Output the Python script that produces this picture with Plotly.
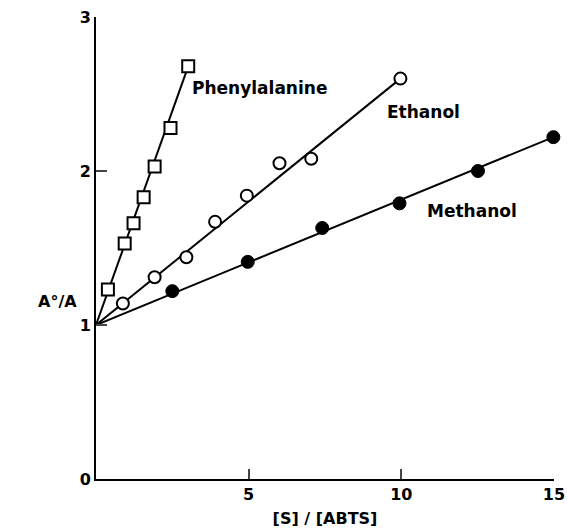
import plotly.graph_objects as go

# Data
phe_x = [0.39, 0.94, 1.23, 1.56, 1.92, 2.44, 3.02]
phe_y = [1.23, 1.53, 1.66, 1.83, 2.03, 2.28, 2.68]
eth_x = [0.88, 1.92, 2.96, 3.90, 4.94, 6.01, 7.05, 9.97]
eth_y = [1.14, 1.31, 1.44, 1.67, 1.84, 2.05, 2.08, 2.60]
met_x = [2.50, 4.97, 7.41, 9.94, 12.51, 14.98]
met_y = [1.22, 1.41, 1.63, 1.79, 2.00, 2.22]

# Fitted straight lines (endpoints)
phe_fit_x = [0, 3.02]
phe_fit_y = [1.0, 2.68]
eth_fit_x = [0, 9.97]
eth_fit_y = [1.0, 2.60]
met_fit_x = [0, 14.98]
met_fit_y = [1.0, 2.22]

x_ticks = [5, 10, 15]
y_ticks = [0, 1, 2, 3]

FONT = "DejaVu Sans"
fig = go.Figure()

for fx, fy in [(phe_fit_x, phe_fit_y), (eth_fit_x, eth_fit_y), (met_fit_x, met_fit_y)]:
    fig.add_trace(go.Scatter(x=fx, y=fy, mode="lines",
                             line=dict(color="black", width=2),
                             showlegend=False, cliponaxis=False, hoverinfo="skip"))

fig.add_trace(go.Scatter(x=phe_x, y=phe_y, mode="markers", name="Phenylalanine",
                         marker=dict(symbol="square", size=12, color="white",
                                     line=dict(color="black", width=2)),
                         showlegend=False, cliponaxis=False))
fig.add_trace(go.Scatter(x=eth_x, y=eth_y, mode="markers", name="Ethanol",
                         marker=dict(symbol="circle", size=12, color="white",
                                     line=dict(color="black", width=2)),
                         showlegend=False, cliponaxis=False))
fig.add_trace(go.Scatter(x=met_x, y=met_y, mode="markers", name="Methanol",
                         marker=dict(symbol="circle", size=13, color="black",
                                     line=dict(color="black", width=1)),
                         showlegend=False, cliponaxis=False))

lab_font = dict(family=FONT, size=17, color="black", weight="bold")
fig.add_annotation(x=3.09, y=2.54, text="Phenylalanine", showarrow=False,
                   xanchor="left", font=lab_font)
fig.add_annotation(x=9.45, y=2.38, text="Ethanol", showarrow=False,
                   xanchor="left", font=lab_font)
fig.add_annotation(x=10.78, y=1.74, text="Methanol", showarrow=False,
                   xanchor="left", font=lab_font)

fig.add_annotation(xref="paper", yref="paper", x=-0.13, y=0.385,
                   text="A°/A", showarrow=False,
                   font=dict(family=FONT, size=16, color="black", weight="bold"))

tick_font = dict(family=FONT, size=16, color="black", weight="bold")
fig.update_layout(
    width=567, height=531,
    margin=dict(l=96, r=13, t=17, b=52),
    paper_bgcolor="white", plot_bgcolor="white",
    font=dict(family=FONT, size=15, color="black"),
    xaxis=dict(range=[0, 15.0005], tickvals=x_ticks, ticks="inside", ticklen=10,
               tickwidth=2, showline=True, linewidth=2, linecolor="black",
               showgrid=False, zeroline=False, tickfont=tick_font,
               ticklabeloverflow="allow", automargin=False,
               title=dict(text="[S] / [ABTS]", standoff=10, font=tick_font)),
    yaxis=dict(range=[0, 3.0001], tickvals=y_ticks, ticks="inside", ticklen=11,
               tickwidth=2, showline=True, linewidth=2, linecolor="black",
               showgrid=False, zeroline=False, tickfont=tick_font,
               automargin=False),
)

fig.write_html("out.html", config={"displayModeBar": False},
               post_script="document.body.style.margin='0';document.body.style.overflow='hidden';")
